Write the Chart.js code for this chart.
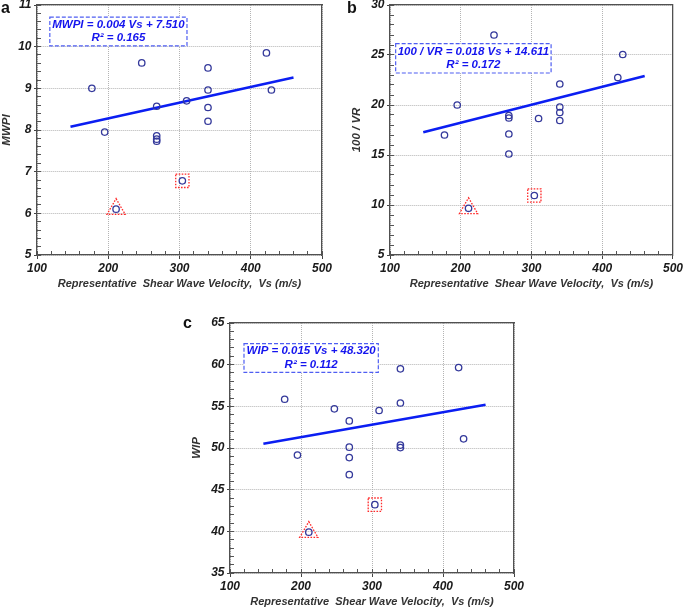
<!DOCTYPE html>
<html><head><meta charset="utf-8">
<script src="https://cdn.jsdelivr.net/npm/chart.js@4/dist/chart.umd.min.js"></script>
<style>
html,body{margin:0;padding:0;background:#fff;}
body{width:685px;height:609px;overflow:hidden;position:relative;}
canvas{position:absolute;}
.lbl{position:absolute;font:bold 16px "Liberation Sans",Arial,sans-serif;line-height:16px;color:#111;}
</style></head><body>
<canvas id="ca" width="340" height="301" style="left:0px;top:-10px;width:340px;height:301px"></canvas>
<canvas id="cb" width="335" height="301" style="left:350px;top:-10px;width:335px;height:301px"></canvas>
<canvas id="cc" width="340" height="301" style="left:190px;top:308px;width:340px;height:301px"></canvas>
<div class="lbl" style="left:1px;top:0px">a</div>
<div class="lbl" style="left:347px;top:0px">b</div>
<div class="lbl" style="left:183px;top:315px">c</div>
<script>
// ---- data ----
const xTicks = [100, 200, 300, 400, 500];
const vs = [177, 195, 247, 268, 268, 268, 268, 310, 340, 340, 340, 340, 422, 429];
const mwpi = [9.00, 7.95, 9.61, 8.57, 7.86, 7.78, 7.73, 8.70, 9.49, 8.96, 8.54, 8.21, 9.85, 8.96];
const vr100 = [17.0, 20.0, 27.0, 18.95, 18.7, 17.1, 15.1, 18.65, 22.1, 19.8, 19.25, 18.45, 22.75, 25.05];
const wip = [55.85, 49.15, 54.7, 53.25, 50.1, 48.85, 46.8, 54.5, 59.5, 55.4, 50.35, 50.05, 59.65, 51.1];
const vsSquare = [304];
const mwpiSquare = [6.78];
const vrSquare = [10.95];
const wipSquare = [43.2];
const vsTriangle = [211];
const mwpiTriangle = [6.10];
const vrTriangle = [9.67];
const wipTriangle = [39.9];
const vsFit = [147, 460];
const mwpiFit = [8.08, 9.26];
const vrFit = [17.27, 22.90];
const wipFit = [50.50, 55.20];
const mwpiTicks = [5, 6, 7, 8, 9, 10, 11];
const vrTicks = [5, 10, 15, 20, 25, 30];
const wipTicks = [35, 40, 45, 50, 55, 60, 65];
const eqMwpi = ['MWPI = 0.004 Vs + 7.510', 'R\u00B2 = 0.165'];
const eqVr = ['100 / VR = 0.018 Vs + 14.611', 'R\u00B2 = 0.172'];
const eqWip = ['WIP = 0.015 Vs + 48.320', 'R\u00B2 = 0.112'];
const xTitle = 'Representative  Shear Wave Velocity,  Vs (m/s)';

// ---- helpers ----
const FONT = '"Liberation Sans", Arial, sans-serif';
function pts(xs, ys) { return xs.map((x, i) => ({x: x, y: ys[i]})); }
function steps(a, b, s) { const r = []; for (let v = a; v <= b + 1e-9; v += s) r.push(Math.round(v * 1000) / 1000); return r; }
const setTicks = arr => s => { s.ticks = arr.map(v => ({value: v})); };

const dottedPlugin = {
  id: 'dotted',
  beforeDatasetDraw(chart, args) {
    if (chart.data.datasets[args.index].dotted) { chart.ctx.save(); chart.ctx.setLineDash([1.6, 1.4]); }
  },
  afterDatasetDraw(chart, args) {
    if (chart.data.datasets[args.index].dotted) { chart.ctx.restore(); }
  }
};
const eqBoxPlugin = {
  id: 'eqbox',
  beforeDatasetsDraw(chart, args, opts) {
    const ctx = chart.ctx, x = chart.scales.x, y = chart.scales.y, b = opts.box;
    const L = x.getPixelForValue(b[0]), R = x.getPixelForValue(b[2]);
    const T = y.getPixelForValue(b[1]), B = y.getPixelForValue(b[3]);
    ctx.save();
    ctx.fillStyle = '#ffffff';
    ctx.fillRect(L, T, R - L, B - T);
    ctx.setLineDash([4, 2]);
    ctx.strokeStyle = '#4f5ef2';
    ctx.lineWidth = 1.2;
    ctx.strokeRect(L, T, R - L, B - T);
    ctx.setLineDash([]);
    ctx.fillStyle = '#1414ee';
    ctx.font = 'italic bold 11.5px ' + FONT;
    ctx.textAlign = 'center';
    ctx.textBaseline = 'middle';
    const cx = (L + R) / 2, cy = (T + B) / 2;
    ctx.fillText(opts.lines[0], cx, cy - 6.8);
    ctx.fillText(opts.lines[1], cx, cy + 6.8);
    ctx.restore();
  }
};

function build(id, p) {
  const tickFont = {family: FONT, size: 12, weight: 'bold', style: 'italic'};
  const titleFont = {family: FONT, size: 11, weight: 'bold', style: 'italic'};
  const frame = '#505050';
  const circle = '#34399b';
  const gridCol = '#b4b4b4';
  new Chart(document.getElementById(id), {
    type: 'scatter',
    data: {datasets: [
      {data: pts(vs, p.y), pointStyle: 'circle', pointRadius: 3.2, pointBorderWidth: 1.3,
       pointBorderColor: circle, pointBackgroundColor: 'rgba(0,0,0,0)', order: 1},
      {data: pts(vsSquare, p.sq), pointStyle: 'circle', pointRadius: 3.2, pointBorderWidth: 1.3,
       pointBorderColor: circle, pointBackgroundColor: 'rgba(0,0,0,0)', order: 2},
      {data: pts(vsTriangle, p.tri), pointStyle: 'circle', pointRadius: 3.2, pointBorderWidth: 1.3,
       pointBorderColor: circle, pointBackgroundColor: 'rgba(0,0,0,0)', order: 3},
      {data: pts(vsSquare, p.sq), pointStyle: 'rect', pointRadius: 9.4, pointBorderWidth: 1.3, dotted: true,
       pointBorderColor: '#ff2a2a', pointBackgroundColor: 'rgba(0,0,0,0)', order: 4},
      {data: pts(vsTriangle, p.tri), pointStyle: 'triangle', pointRadius: 10.5, pointBorderWidth: 1.3, dotted: true,
       pointBorderColor: '#ff2a2a', pointBackgroundColor: 'rgba(0,0,0,0)', order: 5},
      {data: pts(vsFit, p.fit), showLine: true, pointRadius: 0, borderColor: '#0b1ef2', borderWidth: 2.6, order: 6}
    ]},
    options: {
      responsive: false, animation: false, events: [],
      layout: {padding: {left: 0, right: p.padR, top: p.padT, bottom: 0}},
      plugins: {legend: {display: false}, tooltip: {enabled: false}, eqbox: {box: p.box, lines: p.eq}},
      scales: {
        x: {type: 'linear', position: 'bottom', weight: 1, min: 100, max: 500,
            afterBuildTicks: setTicks(xTicks), afterFit: s => { s.height = 36; },
            ticks: {padding: 2, color: '#1a1a1a', font: tickFont},
            grid: {color: gridCol, lineWidth: 1, drawTicks: true, tickLength: 4, tickColor: '#444', tickWidth: 1},
            border: {display: true, color: frame, width: 1.3, dash: [1, 1]},
            title: {display: true, text: xTitle, color: '#333', font: titleFont, padding: 0}},
        xm: {type: 'linear', position: 'bottom', weight: 0, min: 100, max: 500,
             afterBuildTicks: setTicks(steps(100, 500, 20)), afterFit: s => { s.height = 0; },
             ticks: {display: false},
             grid: {drawOnChartArea: false, drawTicks: true, tickLength: -4, tickColor: '#555', tickWidth: 1},
             border: {display: false}},
        xt: {type: 'linear', position: 'top', min: 100, max: 500, afterFit: s => { s.height = 0; },
             ticks: {display: false}, grid: {display: false},
             border: {display: true, color: frame, width: 1.3}},
        y: {type: 'linear', position: 'left', weight: 1, min: p.yMin, max: p.yMax,
            afterBuildTicks: setTicks(p.yTicks), afterFit: s => { s.width = p.yw; },
            ticks: {padding: 2.5, color: '#1a1a1a', font: tickFont},
            grid: {color: gridCol, lineWidth: 1, drawTicks: true, tickLength: 3, tickColor: '#444', tickWidth: 1},
            border: {display: true, color: frame, width: 1.3, dash: [1, 1]},
            title: {display: true, text: p.title, color: '#333', font: {family: FONT, size: 11.5, weight: 'bold', style: 'italic'}, padding: {top: 0, bottom: 0}}},
        ym: {type: 'linear', position: 'left', weight: 0, min: p.yMin, max: p.yMax,
             afterBuildTicks: setTicks(steps(p.yMin, p.yMax, p.yMinor)), afterFit: s => { s.width = 0; },
             ticks: {display: false},
             grid: {drawOnChartArea: false, drawTicks: true, tickLength: -4, tickColor: '#555', tickWidth: 1},
             border: {display: false}},
        yr: {type: 'linear', position: 'right', min: p.yMin, max: p.yMax, afterFit: s => { s.width = 0; },
             ticks: {display: false}, grid: {display: false},
             border: {display: true, color: frame, width: 1.3}}
      }
    },
    plugins: [dottedPlugin, eqBoxPlugin]
  });
}

build('ca', {y: mwpi, sq: mwpiSquare, tri: mwpiTriangle, fit: mwpiFit, yMin: 5, yMax: 11, yMinor: 0.2,
  yTicks: mwpiTicks, title: 'MWPI', eq: eqMwpi, box: [118, 10.71, 310.5, 10.02], yw: 37, padR: 18, padT: 15});
build('cb', {y: vr100, sq: vrSquare, tri: vrTriangle, fit: vrFit, yMin: 5, yMax: 30, yMinor: 1,
  yTicks: vrTicks, title: '100 / VR', eq: eqVr, box: [108, 26.13, 327.7, 23.2], yw: 40, padR: 11, padT: 15});
build('cc', {y: wip, sq: wipSquare, tri: wipTriangle, fit: wipFit, yMin: 35, yMax: 65, yMinor: 1,
  yTicks: wipTicks, title: 'WIP', eq: eqWip, box: [119.7, 62.52, 308.9, 59.08], yw: 40, padR: 16, padT: 15});
</script>
</body></html>
